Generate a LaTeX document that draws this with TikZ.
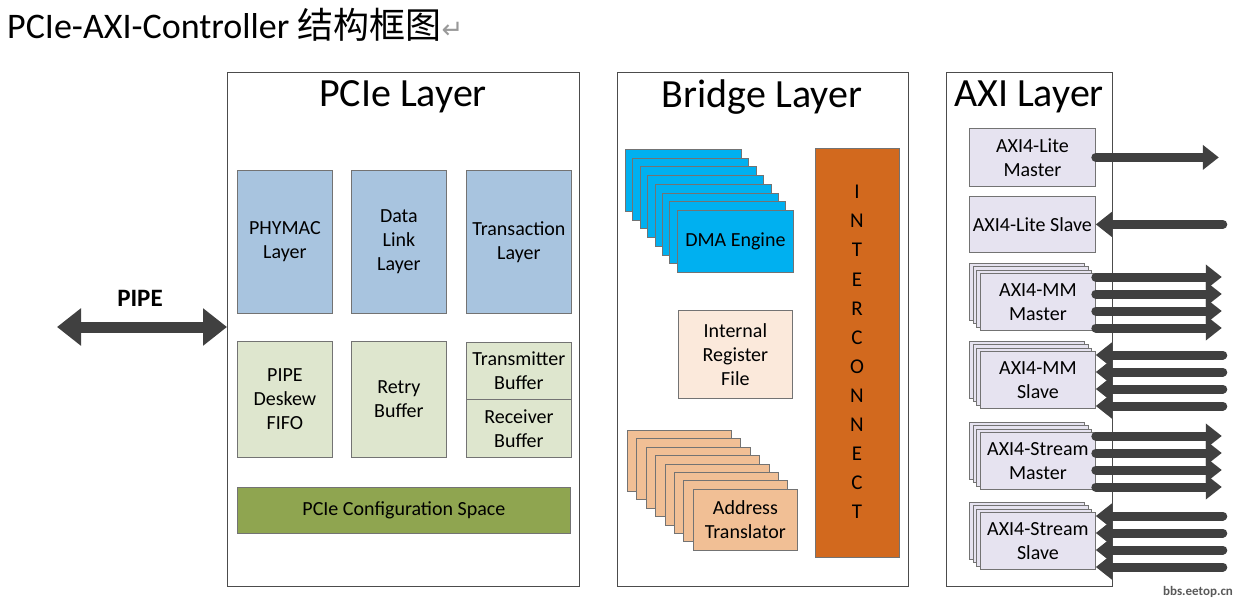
\documentclass[tikz,border=0pt]{standalone}
\usepackage{fontspec}
\setmainfont{Carlito}
\newfontfamily\cjk{Noto Sans CJK SC}
\newfontfamily\dejavu{DejaVu Sans}
\usetikzlibrary{arrows.meta,positioning}
\definecolor{phyblue}{HTML}{A8C4DF}
\definecolor{bufgreen}{HTML}{DEE6CE}
\definecolor{cfggreen}{HTML}{8FA550}
\definecolor{dmablue}{HTML}{00B0F0}
\definecolor{regpeach}{HTML}{FBE9DB}
\definecolor{atorange}{HTML}{F1BF95}
\definecolor{icorange}{HTML}{D2691E}
\definecolor{axililac}{HTML}{E6E3F0}
\definecolor{busgrey}{HTML}{404040}
\tikzset{
  layer/.style={draw=black!70,line width=1pt,anchor=north west,inner sep=0pt},
  blk/.style={draw=black!55,line width=0.8pt,anchor=north west,inner sep=2pt,align=center,font=\fontsize{20}{24}\selectfont},
  bus/.style={busgrey,line width=9pt,line cap=round,-{Triangle[length=16pt,width=24pt]}},
  ltitle/.style={font=\fontsize{40}{44}\selectfont}
}
\begin{document}
\begin{tikzpicture}[x=1pt,y=-1pt]
	\useasboundingbox (0,0) rectangle (1237,605);
	\node[anchor=west,font=\fontsize{36}{40}\selectfont,inner sep=0pt] (title) at (7,25) {PCIe-AXI-Controller {\cjk 结构框图}\textcolor{black!40}{{\dejavu\fontsize{26}{30}\selectfont ↵}}};

	% PCIe Layer
	\node[layer,minimum width=352,minimum height=514] (pcie) at (227,72) {};
	\node[ltitle] (pcielbl) at (403,97) {PCIe Layer};
	\node[blk,fill=phyblue,minimum width=95,minimum height=143] (phy) at (237,170) {PHYMAC\\Layer};
	\node[blk,fill=phyblue,minimum width=95,minimum height=143] (dll) at (351,170) {Data\\Link\\Layer};
	\node[blk,fill=phyblue,minimum width=105,minimum height=143] (tl) at (466,170) {Transaction\\Layer};
	\node[blk,fill=bufgreen,minimum width=95,minimum height=116] (deskew) at (237,341) {PIPE\\Deskew\\FIFO};
	\node[blk,fill=bufgreen,minimum width=95,minimum height=116] (retry) at (351,341) {Retry\\Buffer};
	\node[blk,fill=bufgreen,minimum width=105,minimum height=57] (txbuf) at (466,342) {Transmitter\\Buffer};
	\node[blk,fill=bufgreen,minimum width=105,minimum height=58] (rxbuf) at (466,399) {Receiver\\Buffer};
	\node[blk,fill=cfggreen,minimum width=333,minimum height=46] (cfg) at (237,487) {PCIe Configuration Space};

	% PIPE
	\coordinate (pipel) at (57,327);
	\node[font=\fontsize{25}{28}\selectfont\bfseries] (pipelbl) at (140,298) {PIPE};
	\draw[busgrey,line width=11pt,{Triangle[length=24pt,width=36pt]}-{Triangle[length=24pt,width=36pt]}] (pipel) -- (pcie.west |- pipel);

	% Bridge Layer
	\node[layer,minimum width=291,minimum height=514] (bridge) at (617,72) {};
	\node[ltitle] (bridgelbl) at (762,97) {Bridge Layer};
	\foreach \i in {0,...,6} {
	    \node[blk,fill=dmablue,minimum width=116,minimum height=62] (dma\i) at (625+7.4*\i,149+8.7*\i) {};
	}
	\node[blk,fill=dmablue,minimum width=116,minimum height=62] (dma) at (677,210) {DMA Engine};
	\node[blk,fill=regpeach,minimum width=114,minimum height=88] (reg) at (678,310) {Internal\\Register\\File};
	\foreach \i in {0,...,6} {
	    \node[blk,fill=atorange,minimum width=104,minimum height=61] (at\i) at (627+9.4*\i,430+8.4*\i) {};
	}
	\node[blk,fill=atorange,minimum width=104,minimum height=61] (at) at (693,489) {Address\\Translator};
	\node[blk,fill=icorange,minimum width=84,minimum height=409] (ic) at (815,148) {};
	\foreach \c [count=\i from 0] in {I,N,T,E,R,C,O,N,N,E,C,T} {
	    \node[font=\fontsize{21}{22}\selectfont] (ic\i) at (857,192+29.1*\i) {\c};
	}

	% AXI Layer
	\node[layer,minimum width=166,minimum height=514] (axi) at (946,72) {};
	\node[ltitle] (axilbl) at (1029,97) {AXI Layer};
	\node[blk,fill=axililac,minimum width=126,minimum height=58] (litem) at (969,128) {AXI4-Lite\\Master};
	\node[blk,fill=axililac,minimum width=126,minimum height=56] (lites) at (969,196) {AXI4-Lite Slave};
	\draw[bus] (litem.east) -- +(123,0);
	\draw[bus] ([xshift=127]lites.east) -- (lites.east);
	\foreach \nm/\txt/\top/\dir in {mmm/{AXI4-MM\\Master}/263/1,mms/{AXI4-MM\\Slave}/341/0,stm/{AXI4-Stream\\Master}/422/1,sts/{AXI4-Stream\\Slave}/502/0} {
	    \foreach \k in {0,1,2} {
	        \node[blk,fill=axililac,minimum width=115,minimum height=57] (\nm\k) at (969+3.7*\k,\top+3.4*\k) {};
	    }
	    \node[blk,fill=axililac,minimum width=115,minimum height=57] (\nm) at (980,\top+10) {\txt};
	    \foreach \j in {0,...,3} {
	        \ifnum\dir=1
	            \draw[bus] ([yshift=-4-17*\j]\nm.north east) -- +(126,0);
	        \else
	            \draw[bus] ([xshift=127,yshift=-4-17*\j]\nm.north east) -- ([yshift=-4-17*\j]\nm.north east);
	        \fi
	    }
	}
	\node[font=\fontsize{13}{14}\selectfont\bfseries,text=black!65] (mark) at (1198,592) {bbs.eetop.cn};
\end{tikzpicture}
\end{document}
